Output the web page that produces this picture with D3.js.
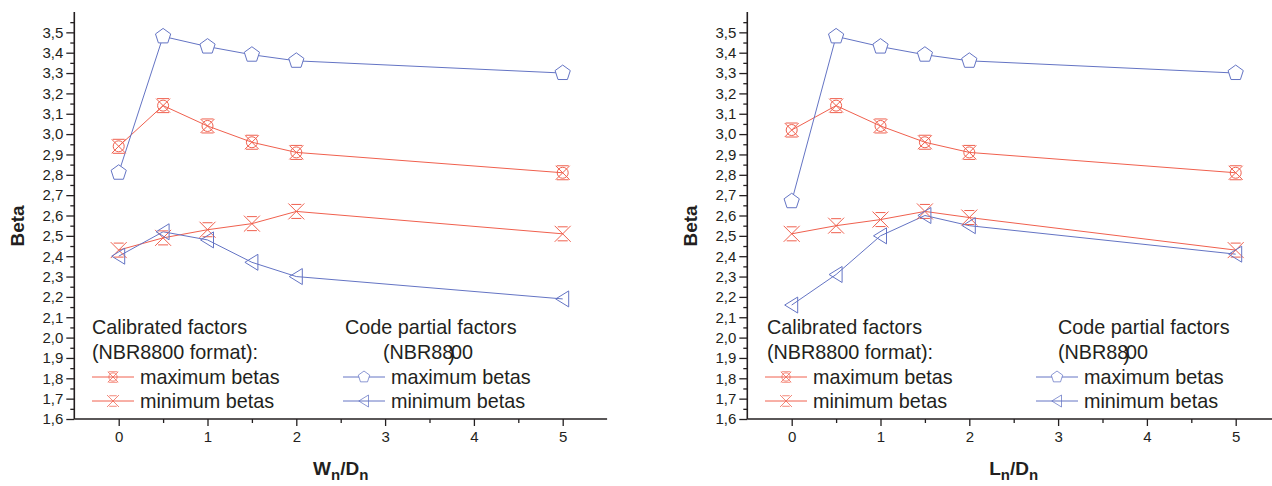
<!DOCTYPE html>
<html>
<head>
<meta charset="utf-8">
<script src="https://cdn.jsdelivr.net/npm/d3@7"></script>
<style>
  body { margin: 0; background: #fff; }
  svg { display: block; font-family: "Liberation Sans", Arial, sans-serif; }
</style>
</head>
<body>
<script>
// x positions shared by both panels
var xVals = [0, 0.5, 1, 1.5, 2, 5];

// left panel (Wn/Dn)
var leftCalMax  = [2.94, 3.14, 3.04, 2.96, 2.91, 2.81];
var leftCalMin  = [2.43, 2.49, 2.53, 2.56, 2.62, 2.51];
var leftCodeMax = [2.81, 3.48, 3.43, 3.39, 3.36, 3.30];
var leftCodeMin = [2.40, 2.52, 2.48, 2.37, 2.30, 2.19];

// right panel (Ln/Dn)
var rightCalMax  = [3.02, 3.14, 3.04, 2.96, 2.91, 2.81];
var rightCalMin  = [2.51, 2.55, 2.58, 2.62, 2.59, 2.43];
var rightCodeMax = [2.67, 3.48, 3.43, 3.39, 3.36, 3.30];
var rightCodeMin = [2.16, 2.31, 2.50, 2.60, 2.55, 2.41];

var xTicks = [0, 1, 2, 3, 4, 5];
var yTicks = [1.6, 1.7, 1.8, 1.9, 2.0, 2.1, 2.2, 2.3, 2.4, 2.5, 2.6, 2.7, 2.8, 2.9, 3.0, 3.1, 3.2, 3.3, 3.4, 3.5];
var legendTitles = ["Calibrated factors", "(NBR8800 format):", "Code partial factors"];
var legendItems = ["maximum betas", "minimum betas"];

var RED = "#f0604e", BLUE = "#6474c4", INK = "#231f20";

var width = 1272, height = 486;
var svg = d3.select("body").append("svg")
    .attr("width", width)
    .attr("height", height);

// marker shapes, drawn around 0,0 (k scales them down for the legend)
function pentagon(r) {
    var pts = d3.range(5).map(function (k) {
        var a = -Math.PI / 2 + k * 2 * Math.PI / 5;
        return [r * Math.cos(a), r * Math.sin(a)];
    });
    return "M" + pts.join("L") + "Z";
}
var markers = {
    calMax: function (sel, color) {
        sel.append("path").attr("d", "M-7,-7L7,7M7,-7L-7,7M-6,-7H6M-6,7H6")
            .attr("fill", "none").attr("stroke", color);
        sel.append("circle").attr("r", 5.5)
            .attr("fill", "none").attr("stroke", color);
    },
    calMin: function (sel, color) {
        sel.append("path").attr("d", "M-8,-8L8,8M8,-8L-8,8M-5,-7H5M-5,7H5")
            .attr("fill", "none").attr("stroke", color);
    },
    codeMax: function (sel, color) {
        sel.append("path").attr("d", pentagon(8))
            .attr("fill", "#fff").attr("stroke", color);
    },
    codeMin: function (sel, color) {
        sel.append("path").attr("d", "M-7,0L6,-8L6,8Z")
            .attr("fill", "none").attr("stroke", color);
    }
};

function drawPanel(opts) {
    var x = d3.scaleLinear().domain([-0.5, 5.5]).range([opts.left, opts.left + 532.8]);
    var y = d3.scaleLinear().domain([1.6, 3.6]).range([419, 12]);
    var g = svg.append("g");

    // y axis: major ticks with labels, minor ticks between
    var yAxis = d3.axisLeft(y).tickValues(yTicks).tickSize(8).tickPadding(3)
        .tickFormat(function (d) { return d3.format(".1f")(d).replace(".", ","); });
    var ya = g.append("g").attr("transform", "translate(" + opts.left + ",0)").call(yAxis);
    g.append("g").attr("transform", "translate(" + opts.left + ",0)")
        .call(d3.axisLeft(y).tickValues(yTicks.map(function (d) { return d + 0.05; })).tickSize(4).tickFormat(""))
        .call(function (a) { a.select(".domain").remove(); });

    // x axis
    var xAxis = d3.axisBottom(x).tickValues(xTicks).tickSize(7).tickPadding(5).tickFormat(d3.format("d"));
    var xa = g.append("g").attr("transform", "translate(0,419)").call(xAxis);
    g.append("g").attr("transform", "translate(0,419)")
        .call(d3.axisBottom(x).tickValues([0.5, 1.5, 2.5, 3.5, 4.5]).tickSize(4).tickFormat(""))
        .call(function (a) { a.select(".domain").remove(); });

    g.selectAll(".domain").attr("stroke", INK).attr("stroke-width", 1.6);
    g.selectAll(".tick line").attr("stroke", INK).attr("stroke-width", 1.3);
    g.selectAll(".tick text").attr("fill", INK).style("font-size", "15px")
        .style("font-family", "'Liberation Sans', Arial, sans-serif");
    ya.select(".domain").attr("d", "M0,12V419");
    xa.select(".domain").attr("d", "M" + opts.left + ",0H" + (opts.left + 532.8));

    // axis titles
    g.append("text")
        .attr("transform", "translate(" + (opts.left - 50) + ",226) rotate(-90)")
        .attr("text-anchor", "middle")
        .style("font-size", "19px").style("font-weight", "bold").attr("fill", INK)
        .text("Beta");
    var xt = g.append("text")
        .attr("x", x(2.5)).attr("y", 475)
        .attr("text-anchor", "middle")
        .style("font-size", "19px").style("font-weight", "bold").attr("fill", INK);
    xt.append("tspan").text(opts.xLetter);
    xt.append("tspan").attr("dy", 5).style("font-size", "15px").text("n");
    xt.append("tspan").attr("dy", -5).text("/D");
    xt.append("tspan").attr("dy", 5).style("font-size", "15px").text("n");

    // series
    var series = [
        { vals: opts.calMax, color: RED, mk: "calMax" },
        { vals: opts.calMin, color: RED, mk: "calMin" },
        { vals: opts.codeMin, color: BLUE, mk: "codeMin" },
        { vals: opts.codeMax, color: BLUE, mk: "codeMax" }
    ];
    var line = d3.line().x(function (d) { return x(d[0]); }).y(function (d) { return y(d[1]); });
    series.forEach(function (s) {
        var pts = xVals.map(function (v, i) { return [v, s.vals[i]]; });
        g.append("path").attr("d", line(pts))
            .attr("fill", "none").attr("stroke", s.color).attr("stroke-width", 1);
    });
    series.forEach(function (s) {
        xVals.forEach(function (v, i) {
            var m = g.append("g").attr("transform", "translate(" + x(v) + "," + y(s.vals[i]) + ")");
            markers[s.mk](m, s.color);
        });
    });

    // legend
    var lg = g.append("g").style("font-size", "19.8px").attr("fill", INK);
    lg.append("text").attr("x", opts.calTitle).attr("y", 334).text(legendTitles[0]);
    lg.append("text").attr("x", opts.calTitle).attr("y", 359).text(legendTitles[1]);
    lg.append("text").attr("x", opts.codeTitle).attr("y", 334).text(legendTitles[2]);
    // the source has a stray ")" printed over "(NBR8800"
    var nbr = lg.append("text").attr("x", opts.nbrX).attr("y", 359);
    nbr.append("tspan").text("(NBR88");
    nbr.append("tspan").attr("dx", -5).attr("dy", 2).text(")");
    nbr.append("tspan").attr("dx", -4).attr("dy", -2).text("00");

    var rows = [
        { col: opts.calLine, color: RED, mk: "calMax", label: legendItems[0], yy: 377 },
        { col: opts.calLine, color: RED, mk: "calMin", label: legendItems[1], yy: 401 },
        { col: opts.codeLine, color: BLUE, mk: "codeMax", label: legendItems[0], yy: 377 },
        { col: opts.codeLine, color: BLUE, mk: "codeMin", label: legendItems[1], yy: 401 }
    ];
    rows.forEach(function (r) {
        lg.append("line").attr("x1", r.col).attr("x2", r.col + 42)
            .attr("y1", r.yy).attr("y2", r.yy)
            .attr("stroke", r.color).attr("stroke-width", 1);
        var m = lg.append("g").attr("transform", "translate(" + (r.col + 21) + "," + r.yy + ") scale(0.75)");
        markers[r.mk](m, r.color);
        lg.append("text").attr("x", r.col + 48).attr("y", r.yy + 7).text(r.label);
    });
}

drawPanel({
    left: 74.3, xLetter: "W",
    calLine: 92, calTitle: 92, codeLine: 343, codeTitle: 345, nbrX: 383,
    calMax: leftCalMax, calMin: leftCalMin, codeMax: leftCodeMax, codeMin: leftCodeMin
});
drawPanel({
    left: 747.3, xLetter: "L",
    calLine: 765, calTitle: 767, codeLine: 1036, codeTitle: 1058, nbrX: 1058,
    calMax: rightCalMax, calMin: rightCalMin, codeMax: rightCodeMax, codeMin: rightCodeMin
});
</script>
</body>
</html>
